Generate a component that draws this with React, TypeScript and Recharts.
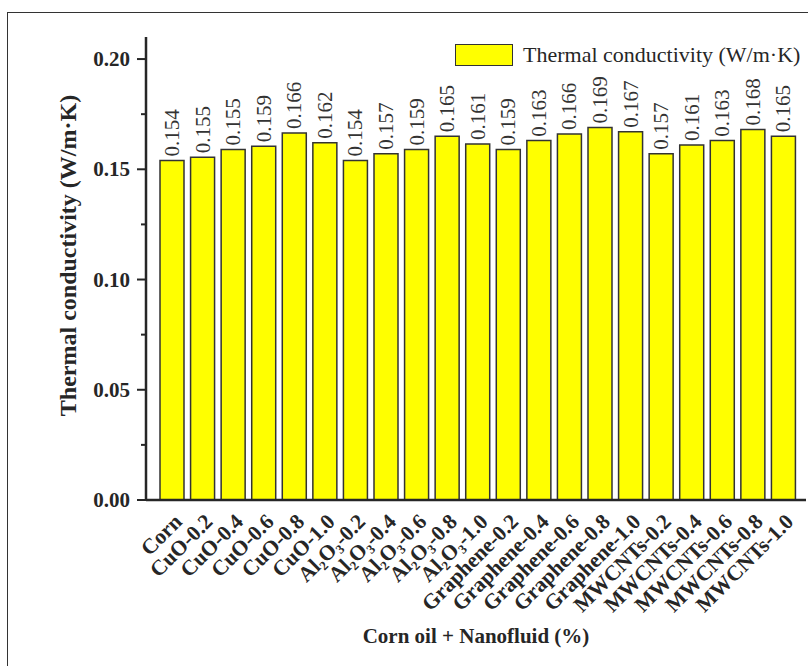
import React from "react";
import { BarChart, Bar, XAxis, YAxis, LabelList, Label } from "recharts";

const categories = [
  "Corn",
  "CuO-0.2", "CuO-0.4", "CuO-0.6", "CuO-0.8", "CuO-1.0",
  "Al2O3-0.2", "Al2O3-0.4", "Al2O3-0.6", "Al2O3-0.8", "Al2O3-1.0",
  "Graphene-0.2", "Graphene-0.4", "Graphene-0.6", "Graphene-0.8", "Graphene-1.0",
  "MWCNTs-0.2", "MWCNTs-0.4", "MWCNTs-0.6", "MWCNTs-0.8", "MWCNTs-1.0",
];

// bar heights
const barValues = [
  0.154, 0.1555, 0.159, 0.1605, 0.1665, 0.162,
  0.154, 0.157, 0.159, 0.165, 0.1615,
  0.159, 0.163, 0.166, 0.169, 0.167,
  0.157, 0.161, 0.163, 0.168, 0.165,
];

// numbers printed above the bars
const labelValues = [
  "0.154", "0.155", "0.155", "0.159", "0.166", "0.162",
  "0.154", "0.157", "0.159", "0.165", "0.161",
  "0.159", "0.163", "0.166", "0.169", "0.167",
  "0.157", "0.161", "0.163", "0.168", "0.165",
];

const yTicks = [0, 0.025, 0.05, 0.075, 0.1, 0.125, 0.15, 0.175, 0.2];
const yMajor = [0, 0.05, 0.1, 0.15, 0.2];

const data = categories.map((name, i) => ({ name, value: barValues[i], label: labelValues[i] }));

const serif = "'Liberation Serif', 'Times New Roman', serif";
const ink = "#262626";

function YTick(props: any) {
  const { x, y, payload } = props;
  const major = yMajor.some((m) => Math.abs(m - payload.value) < 1e-9);
  const axisX = x + 16;
  return (
    <g>
      <line x1={axisX - (major ? 9 : 5)} x2={axisX} y1={y} y2={y} stroke={ink} strokeWidth={2} />
      {major && (
        <text x={x} y={y} textAnchor="end" dominantBaseline="central" fontFamily={serif}
          fontWeight="bold" fontSize={21} fill={ink}>
          {payload.value.toFixed(2)}
        </text>
      )}
    </g>
  );
}

function XTick(props: any) {
  const { x, y, payload } = props;
  const s: string = payload.value;
  const ax = x + 11;
  const ay = y + 15;
  let content: React.ReactNode = s;
  if (s.startsWith("Al2O3")) {
    const rest = s.slice(5);
    content = (
      <>
        <tspan>Al</tspan>
        <tspan fontSize={13} dy={4}>2</tspan>
        <tspan dy={-4}>O</tspan>
        <tspan fontSize={13} dy={4}>3</tspan>
        <tspan dy={-4}>{rest}</tspan>
      </>
    );
  }
  return (
    <text x={ax} y={ay} textAnchor="end" transform={`rotate(-45 ${ax} ${ay})`}
      fontFamily={serif} fontWeight="bold" fontSize={21.5} fill={ink}>
      {content}
    </text>
  );
}

function ValueLabel(props: any) {
  const { x, y, width, value } = props;
  const cx = x + width / 2;
  const cy = y - 4;
  return (
    <text x={cx} y={cy} transform={`rotate(-90 ${cx} ${cy})`} textAnchor="start"
      dominantBaseline="central" fontFamily={serif} fontSize={21} fill="#333">
      {value}
    </text>
  );
}

export default function App() {
  return (
    <div style={{ position: "fixed", left: 0, top: 0, width: 808, height: 666, overflow: "hidden", background: "#fff" }}>
      <div style={{ position: "absolute", left: 7, top: 12, width: 900, height: 800, border: "1.5px solid #333" }} />
      <div style={{ position: "absolute", left: 0, top: 0 }}>
        <BarChart width={808} height={666} data={data} margin={{ top: 37, right: 2, bottom: 0, left: 0 }}>
          <XAxis dataKey="name" interval={0} height={166} tick={<XTick />} tickLine={false}
            axisLine={{ stroke: ink, strokeWidth: 2.5 }} padding={{ left: 11, right: 7 }}>
            <Label content={(p: any) => (
              <text x={p.viewBox.x + p.viewBox.width / 2} y={p.viewBox.y + 143} textAnchor="middle"
                fontFamily={serif} fontWeight="bold" fontSize={21} fill={ink}>
                Corn oil + Nanofluid (%)
              </text>
            )} />
          </XAxis>
          <XAxis xAxisId="top" dataKey="name" orientation="top" height={0} tick={false} tickLine={false}
            axisLine={{ stroke: ink, strokeWidth: 1.2 }} padding={{ left: 11, right: 7 }} />
          <YAxis width={146} domain={[0, 0.21]} ticks={yTicks} interval={0} tick={<YTick />}
            tickLine={false} tickSize={8} tickMargin={8} axisLine={{ stroke: ink, strokeWidth: 2.5 }}>
            <Label content={(p: any) => {
              const lx = p.viewBox.x + 76;
              const ly = p.viewBox.y + p.viewBox.height / 2 - 13;
              return (
                <text x={lx} y={ly} textAnchor="middle" transform={`rotate(-90 ${lx} ${ly})`}
                  fontFamily={serif} fontWeight="bold" fontSize={24} fill={ink}>
                  Thermal conductivity (W/m·K)
                </text>
              );
            }} />
          </YAxis>
          <YAxis yAxisId="right" orientation="right" width={0} domain={[0, 0.21]} tick={false}
            tickLine={false} axisLine={{ stroke: ink, strokeWidth: 1.2 }} />
          <Bar dataKey="value" fill="#ffff00" stroke="#333" strokeWidth={1.5} barSize={24}
            isAnimationActive={false}>
            <LabelList dataKey="label" content={<ValueLabel />} />
          </Bar>
        </BarChart>
      </div>
      <div style={{ position: "absolute", left: 455, top: 44, width: 56, height: 20, background: "#ffff00", border: "1.5px solid #333" }} />
      <div style={{ position: "absolute", left: 523, top: 42, fontFamily: serif, fontSize: 22, color: ink, whiteSpace: "nowrap", lineHeight: "26px" }}>
        Thermal conductivity (W/m·K)
      </div>
    </div>
  );
}
